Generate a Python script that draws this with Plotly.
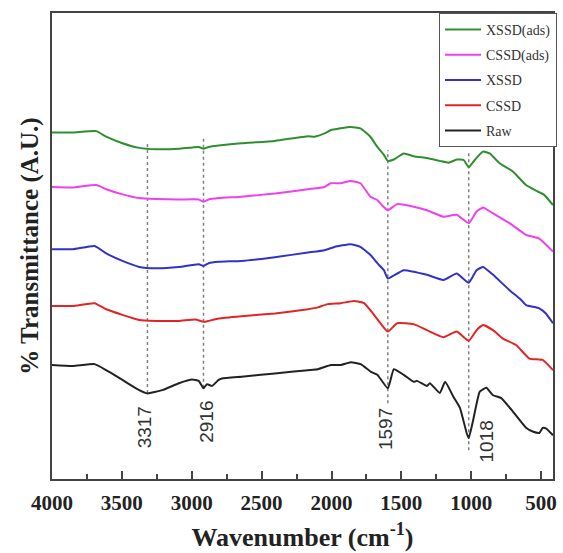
import plotly.graph_objects as go

# ---- data (wavenumber cm^-1, transmittance a.u.) ----
xssd_ads_wn = [4000, 3851, 3683, 3612, 3496, 3376, 3257, 3092, 2950, 2916, 2879, 2808, 2644, 2405, 2169, 2121,
               2050, 2006, 1935, 1864, 1793, 1722, 1672, 1625, 1597, 1554, 1483, 1412, 1317, 1225, 1163, 1104,
               1055, 1018, 975, 915, 868, 797, 702, 608, 537, 478, 415]
xssd_ads_t = [74.3, 74.3, 74.6, 73.4, 72.0, 71.0, 70.7, 70.8, 71.2, 70.8, 71.2, 71.5, 72.0, 72.5, 73.5, 73.4,
              74.1, 74.8, 75.2, 75.5, 75.2, 73.4, 71.2, 69.5, 68.2, 68.5, 69.8, 69.2, 68.8, 68.2, 67.8, 68.5,
              68.4, 66.8, 68.4, 70.2, 69.8, 67.7, 65.9, 63.0, 61.8, 60.9, 58.7]

cssd_ads_wn = [4000, 3851, 3683, 3612, 3496, 3376, 3257, 3092, 2950, 2916, 2879, 2808, 2644, 2405, 2169, 2050,
               2006, 1935, 1864, 1793, 1722, 1672, 1640, 1597, 1530, 1436, 1317, 1199, 1104, 1018, 962, 915,
               844, 726, 608, 513, 415]
cssd_ads_t = [62.6, 62.5, 63.0, 62.1, 61.0, 60.2, 60.0, 59.9, 59.9, 59.4, 59.9, 60.2, 60.5, 61.2, 62.1, 62.6,
              63.4, 63.4, 63.9, 63.4, 60.5, 59.8, 58.7, 57.6, 58.9, 58.5, 57.6, 56.2, 56.6, 54.8, 57.3, 58.2,
              56.9, 54.8, 52.3, 51.5, 48.7]

xssd_wn = [4000, 3851, 3695, 3612, 3496, 3376, 3257, 3092, 2950, 2916, 2879, 2808, 2644, 2405, 2169, 2050,
           1979, 1864, 1793, 1722, 1672, 1625, 1597, 1483, 1317, 1199, 1104, 1018, 962, 915, 844, 726,
           643, 608, 513, 466, 415]
xssd_t = [49.2, 49.2, 49.9, 48.3, 46.7, 45.4, 45.1, 45.4, 46.0, 45.6, 46.2, 46.5, 46.7, 47.5, 48.5, 49.0,
          49.7, 50.3, 49.7, 48.0, 46.2, 44.7, 42.9, 44.7, 43.7, 42.6, 44.0, 42.0, 44.7, 45.4, 43.7, 40.4,
          38.3, 37.2, 36.5, 35.4, 33.3]

cssd_wn = [4000, 3851, 3695, 3612, 3496, 3376, 3257, 3092, 2973, 2916, 2879, 2808, 2644, 2405, 2169, 2098,
           2027, 1933, 1838, 1767, 1696, 1650, 1597, 1530, 1412, 1317, 1199, 1104, 1018, 962, 915, 844,
           773, 679, 584, 489, 415]
cssd_t = [37.0, 37.0, 37.6, 36.3, 35.1, 34.0, 33.8, 33.8, 34.1, 33.6, 33.8, 34.3, 34.8, 35.4, 36.3, 36.7,
          37.4, 37.6, 38.1, 37.6, 35.1, 33.3, 31.5, 33.3, 33.1, 31.8, 30.3, 31.5, 29.5, 31.8, 32.9, 31.8,
          30.0, 28.6, 25.7, 25.4, 23.2]

raw_wn = [4000, 3851, 3695, 3612, 3496, 3376, 3317, 3210, 3092, 2997, 2950, 2916, 2891, 2855, 2808, 2784,
          2644, 2405, 2169, 2098, 2004, 1933, 1862, 1791, 1720, 1672, 1597, 1554, 1483, 1412, 1388, 1317,
          1296, 1225, 1187, 1128, 1081, 1033, 1018, 986, 939, 892, 844, 785, 702, 608, 560, 513, 489,
          466, 415]
raw_t = [24.3, 24.1, 24.5, 23.2, 21.1, 18.9, 18.2, 18.9, 20.4, 21.2, 20.9, 19.3, 20.2, 19.8, 21.1, 21.4,
         21.8, 22.5, 23.2, 23.4, 24.3, 24.3, 24.9, 24.5, 22.9, 22.2, 19.3, 23.4, 22.2, 20.7, 20.9, 19.8,
         20.4, 18.3, 20.7, 17.5, 15.1, 9.7, 8.6, 12.5, 18.6, 19.4, 17.8, 17.2, 14.3, 10.8, 10.0, 9.7, 10.8,
         10.7, 9.2]

series_names = ["XSSD(ads)", "CSSD(ads)", "XSSD", "CSSD", "Raw"]
series_colors = ["#2f8f2f", "#ee40ee", "#3232c8", "#e32424", "#222222"]

peak_wn = [3317, 2916, 1597, 1018]
peak_labels = ["3317", "2916", "1597", "1018"]
peak_line_top = [72.3, 73.3, 70.5, 70.0]
peak_line_bottom = [18.3, 19.4, 16.1, 6.0]
peak_label_y = [11.0, 12.2, 10.5, 7.8]
peak_label_xshift = [-3, 3, -3, 18]

x_tickvals = [4000, 3500, 3000, 2500, 2000, 1500, 1000, 500]

# ---- figure ----
fig = go.Figure()
series = [(xssd_ads_wn, xssd_ads_t), (cssd_ads_wn, cssd_ads_t), (xssd_wn, xssd_t),
          (cssd_wn, cssd_t), (raw_wn, raw_t)]
for (wn, t), name, col in zip(series, series_names, series_colors):
    fig.add_trace(go.Scatter(x=wn, y=t, mode="lines", name=name, legendgroup=name,
                             line=dict(color=col, width=2, shape="spline", smoothing=0.4)))

for wn, top, bot, lab, ly, dx in zip(peak_wn, peak_line_top, peak_line_bottom, peak_labels,
                                     peak_label_y, peak_label_xshift):
    fig.add_shape(type="line", x0=wn, x1=wn, y0=bot, y1=top, xref="x", yref="y",
                  line=dict(color="#808080", width=1.5, dash="dot"), layer="below")
    fig.add_annotation(x=wn, y=ly, text=lab, showarrow=False, textangle=-90, xshift=dx,
                       font=dict(family="Liberation Sans", size=19, color="#333333"))

fig.update_layout(
    width=563, height=553,
    margin=dict(l=52, r=6, t=13, b=74),
    plot_bgcolor="white", paper_bgcolor="white",
    showlegend=True,
    legend=dict(x=1.008, xanchor="right", y=1, yanchor="top", bgcolor="white",
                bordercolor="#555555", borderwidth=1, traceorder="grouped", tracegroupgap=4,
                itemwidth=36,
                font=dict(family="Liberation Serif", size=14, color="#333333")),
)
fig.update_xaxes(
    range=[4000, 415], showgrid=False, zeroline=False,
    showline=True, mirror=True, linecolor="#444444", linewidth=1.5,
    tickvals=x_tickvals, ticks="inside", ticklen=8, tickwidth=1.5, tickcolor="#444444",
    minor=dict(ticks="inside", ticklen=5, tickwidth=1.5, tickcolor="#444444", dtick=250, tick0=500),
    tickfont=dict(family="Liberation Serif", size=21, color="#222222", weight="bold"),
    ticklabelstandoff=4,
    title=dict(text="<b>Wavenumber (cm<sup>-1</sup>)</b>", standoff=14,
               font=dict(family="Liberation Serif", size=26, color="#222222")),
)
fig.update_yaxes(
    range=[-0.2, 100], showgrid=False, zeroline=False,
    showline=True, mirror=True, linecolor="#444444", linewidth=1.5,
    showticklabels=False, ticks="",
    title=dict(text="<b>% Transmittance (A.U.)</b>", standoff=5,
               font=dict(family="Liberation Serif", size=25, color="#222222")),
)

fig.write_html("out.html")
